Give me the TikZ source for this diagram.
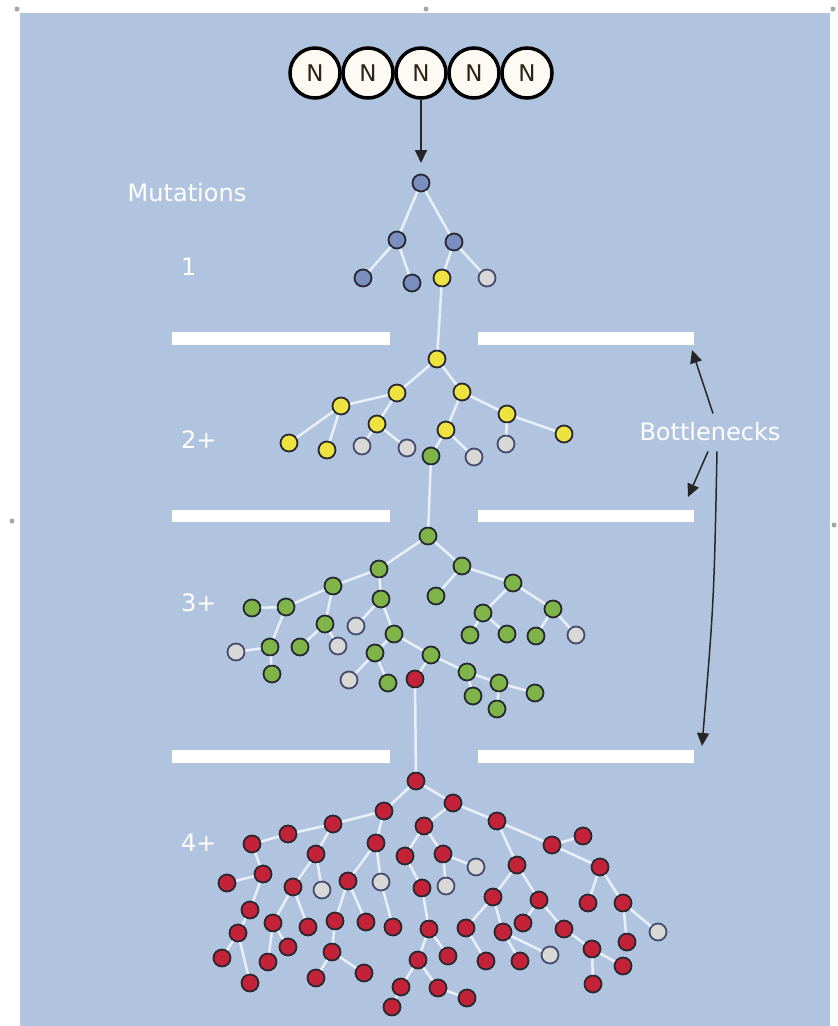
\documentclass[tikz,border=0pt]{standalone}
\usepackage{fontspec}
\setmainfont{DejaVu Sans}
\usetikzlibrary{arrows.meta}
\definecolor{bgc}{RGB}{177,196,223}
\definecolor{blueN}{RGB}{122,142,192}
\definecolor{yel}{RGB}{238,226,62}
\definecolor{grn}{RGB}{126,180,72}
\definecolor{redN}{RGB}{196,34,56}
\definecolor{gryN}{RGB}{216,216,214}
\definecolor{gryE}{RGB}{70,76,110}
\definecolor{edgeC}{RGB}{40,40,48}
\definecolor{linkC}{RGB}{232,240,252}
\definecolor{nucF}{RGB}{252,250,242}
\tikzset{
  dot/.style={circle, draw=edgeC, line width=1.8, minimum size=17, inner sep=0},
  bdot/.style={dot, fill=blueN},
  ydot/.style={dot, fill=yel},
  gdot/.style={dot, fill=grn},
  rdot/.style={dot, fill=redN},
  wdot/.style={dot, fill=gryN, draw=gryE},
  link/.style={draw=linkC, line width=2.5},
  barw/.style={fill=white, draw=none},
  lab/.style={text=white, font=\fontsize{24}{28}\selectfont, inner sep=0},
  nuc/.style={circle, draw=black, line width=3.5, fill=nucF, minimum size=50, inner sep=0, font=\fontsize{23}{26}\selectfont, text={rgb,255:red,45;green,35;blue,25}},
  arr/.style={draw=black!85, line width=1.5, -{Triangle[length=13pt,width=12pt]}},
  hdl/.style={circle, fill=gray!70, inner sep=0, minimum size=5}
}
\begin{document}
\begin{tikzpicture}[x=1pt,y=-1pt]
\useasboundingbox (0,0) rectangle (838,1026);
\fill[white] (0,0) rectangle (838,1026);
\fill[bgc] (20,13) rectangle (830,1026);
% handles
\node[hdl] (h1) at (17,9) {};
\node[hdl] (h2) at (426,9) {};
\node[hdl] (h3) at (833,9) {};
\node[hdl] (h4) at (12,521) {};
\node[hdl] (h5) at (834,525) {};
% bars
\fill[barw] (172,332) rectangle (390,345);
\fill[barw] (478,332) rectangle (694,345);
\fill[barw] (172,510) rectangle (390,522);
\fill[barw] (478,510) rectangle (694,522);
\fill[barw] (172,750) rectangle (390,763);
\fill[barw] (478,750) rectangle (694,763);
% labels
\node[lab] (mut) at (187,193) {Mutations};
\node[lab, anchor=west] (l1) at (181,267) {1};
\node[lab, anchor=west] (l2) at (181,440) {2+};
\node[lab, anchor=west] (l3) at (181,603) {3+};
\node[lab, anchor=west] (l4) at (181,843) {4+};
\node[lab] (bt) at (710,432) {Bottlenecks};
% nucleotides
\node[nuc] (n1) at (315,73) {N};
\node[nuc] (n2) at (368,73) {N};
\node[nuc] (n3) at (421,73) {N};
\node[nuc] (n4) at (474,73) {N};
\node[nuc] (n5) at (527,73) {N};
\coordinate (top) at (421,163);
\draw[arr, line width=1.8] (n3.south) -- (top);
% layer 1
\node[bdot] (b0) at (421,183) {};
\node[bdot] (b1) at (397,240) {};
\node[bdot] (b2) at (454,242) {};
\node[bdot] (b3) at (363,278) {};
\node[bdot] (b4) at (412,283) {};
\node[ydot] (y0) at (442,278) {};
\node[wdot] (w1) at (487,278) {};
\foreach \a/\b in {b0/b1,b0/b2,b1/b3,b1/b4,b2/y0,b2/w1} \draw[link] (\a) -- (\b);
% layer 2
\node[ydot] (y1) at (437,359) {};
\node[ydot] (y2) at (397,393) {};
\node[ydot] (y3) at (341,406) {};
\node[ydot] (y4) at (462,392) {};
\node[ydot] (y5) at (377,424) {};
\node[ydot] (y6) at (507,414) {};
\node[ydot] (y7) at (446,430) {};
\node[ydot] (y8) at (289,443) {};
\node[ydot] (y9) at (327,450) {};
\node[wdot] (w2) at (362,446) {};
\node[wdot] (w3) at (407,448) {};
\node[gdot] (g0) at (431,456) {};
\node[wdot] (w4) at (474,457) {};
\node[wdot] (w5) at (506,444) {};
\node[ydot] (y10) at (564,434) {};
\draw[link] (y0) -- (y1);
\foreach \a/\b in {y1/y2,y2/y3,y3/y8,y3/y9,y2/y5,y5/w2,y5/w3,y1/y4,y4/y6,y6/y10,y4/y7,y7/w4,y7/g0,y6/w5} \draw[link] (\a) -- (\b);
% layer 3
\node[gdot] (g1) at (428,536) {};
\node[gdot] (g2) at (379,569) {};
\node[gdot] (g3) at (462,566) {};
\node[gdot] (g4) at (333,586) {};
\node[gdot] (g5) at (513,583) {};
\node[gdot] (g6) at (436,596) {};
\node[gdot] (g7) at (381,599) {};
\node[gdot] (g8) at (252,608) {};
\node[gdot] (g9) at (286,607) {};
\node[gdot] (g10) at (483,613) {};
\node[gdot] (g11) at (553,609) {};
\node[gdot] (g12) at (325,624) {};
\node[wdot] (w6) at (356,626) {};
\node[gdot] (g13) at (394,634) {};
\node[gdot] (g14) at (470,635) {};
\node[gdot] (g15) at (507,634) {};
\node[gdot] (g16) at (536,636) {};
\node[wdot] (w7) at (576,635) {};
\node[wdot] (w8) at (236,652) {};
\node[gdot] (g17) at (270,647) {};
\node[gdot] (g18) at (300,647) {};
\node[wdot] (w9) at (338,646) {};
\node[gdot] (g19) at (375,653) {};
\node[gdot] (g20) at (431,655) {};
\node[gdot] (g21) at (272,674) {};
\node[wdot] (w10) at (349,680) {};
\node[gdot] (g22) at (388,683) {};
\node[rdot] (r0) at (415,679) {};
\node[gdot] (g23) at (467,672) {};
\node[gdot] (g24) at (499,683) {};
\node[gdot] (g25) at (473,696) {};
\node[gdot] (g26) at (535,693) {};
\node[gdot] (g27) at (497,709) {};
\draw[link] (g0) -- (g1);
\foreach \a/\b in {g1/g2,g2/g4,g4/g9,g9/g8,g9/g17,g17/w8,g17/g21,g4/g12,g12/g18,g12/w9,g2/g7,g7/w6,g7/g13,g13/g19,g19/w10,g19/g22,g13/g20,g20/r0,g20/g23,g23/g25,g23/g24,g24/g26,g24/g27,g1/g3,g3/g6,g3/g5,g5/g10,g10/g14,g10/g15,g5/g11,g11/g16,g11/w7} \draw[link] (\a) -- (\b);
% layer 4
\node[rdot] (r1) at (416,781) {};
\node[rdot] (r2) at (384,811) {};
\node[rdot] (r3) at (453,803) {};
\node[rdot] (r4) at (333,824) {};
\node[rdot] (r5) at (424,826) {};
\node[rdot] (r6) at (497,821) {};
\node[rdot] (r7) at (288,834) {};
\node[rdot] (r8) at (252,844) {};
\node[rdot] (r9) at (376,843) {};
\node[rdot] (r10) at (316,854) {};
\node[rdot] (r11) at (405,856) {};
\node[rdot] (r12) at (443,854) {};
\node[wdot] (w11) at (476,867) {};
\node[rdot] (r13) at (517,865) {};
\node[rdot] (r14) at (552,845) {};
\node[rdot] (r15) at (583,836) {};
\node[rdot] (r16) at (600,867) {};
\node[rdot] (r17) at (263,874) {};
\node[rdot] (r18) at (227,883) {};
\node[rdot] (r19) at (293,887) {};
\node[wdot] (w12) at (322,890) {};
\node[rdot] (r20) at (348,881) {};
\node[wdot] (w13) at (381,882) {};
\node[rdot] (r21) at (422,888) {};
\node[wdot] (w14) at (446,886) {};
\node[rdot] (r22) at (493,897) {};
\node[rdot] (r23) at (539,900) {};
\node[rdot] (r24) at (588,903) {};
\node[rdot] (r25) at (623,903) {};
\node[rdot] (r26) at (250,910) {};
\node[rdot] (r27) at (273,923) {};
\node[rdot] (r28) at (238,933) {};
\node[rdot] (r29) at (308,927) {};
\node[rdot] (r30) at (335,921) {};
\node[rdot] (r31) at (366,922) {};
\node[rdot] (r32) at (393,927) {};
\node[rdot] (r33) at (429,929) {};
\node[rdot] (r34) at (466,928) {};
\node[rdot] (r35) at (503,932) {};
\node[rdot] (r36) at (523,923) {};
\node[rdot] (r37) at (564,929) {};
\node[wdot] (w15) at (658,932) {};
\node[rdot] (r38) at (627,942) {};
\node[rdot] (r39) at (222,958) {};
\node[rdot] (r40) at (268,962) {};
\node[rdot] (r41) at (288,947) {};
\node[rdot] (r42) at (332,952) {};
\node[rdot] (r43) at (364,973) {};
\node[rdot] (r44) at (316,978) {};
\node[rdot] (r45) at (250,983) {};
\node[rdot] (r46) at (418,960) {};
\node[rdot] (r47) at (448,956) {};
\node[rdot] (r48) at (486,961) {};
\node[rdot] (r49) at (520,961) {};
\node[wdot] (w16) at (550,955) {};
\node[rdot] (r50) at (592,949) {};
\node[rdot] (r51) at (623,966) {};
\node[rdot] (r52) at (593,984) {};
\node[rdot] (r53) at (401,987) {};
\node[rdot] (r54) at (438,988) {};
\node[rdot] (r55) at (467,998) {};
\node[rdot] (r56) at (392,1007) {};
\draw[link] (r0) -- (r1);
\foreach \a/\b in {r1/r2,r1/r3,r2/r4,r3/r5,r3/r6,r4/r7,r7/r8,r4/r10,r2/r9,r5/r11,r5/r12,r12/w11,r6/r13,r6/r14,r14/r15,r14/r16,r16/r24,r16/r25,r25/w15,r25/r38,r13/r22,r13/r23,r22/r34,r22/r35,r23/r36,r23/r37,r37/r50,r50/r52,r50/r51,r35/r49,r35/w16,r34/r48,r11/r21,r12/w14,r21/r33,r33/r46,r33/r47,r46/r53,r53/r56,r46/r54,r54/r55,r10/r19,r10/w12,r19/r27,r19/r29,r27/r40,r27/r41,r8/r17,r17/r18,r17/r26,r26/r28,r28/r39,r28/r45,r9/r20,r20/r30,r20/r31,r30/r42,r42/r44,r42/r43,r9/w13,w13/r32} \draw[link] (\a) -- (\b);
% bottleneck arrows
\coordinate (t1) at (692,350);
\coordinate (t2) at (688,497);
\coordinate (t3) at (702,746);
\draw[arr] ([xshift=3pt,yshift=9pt]bt.north) -- (t1);
\draw[arr] ([xshift=-2pt,yshift=-10pt]bt.south) -- (t2);
\draw[arr] ([xshift=7pt,yshift=-10pt]bt.south) .. controls (714,600) .. (t3);
\end{tikzpicture}
\end{document}
